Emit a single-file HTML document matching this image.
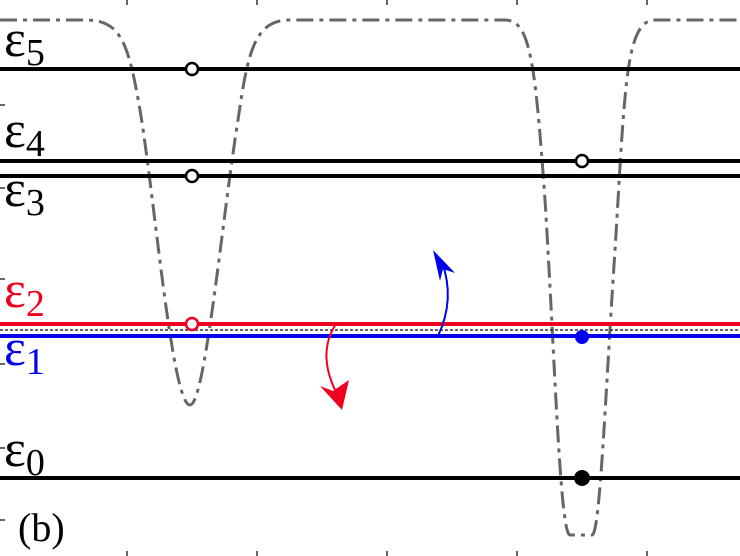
<!DOCTYPE html>
<html><head><style>
html,body{margin:0;padding:0;background:#fff;}
svg{display:block;}
text{font-family:"Liberation Serif",serif;}
</style></head><body>
<svg width="740" height="556" viewBox="0 0 740 556" xmlns="http://www.w3.org/2000/svg">
<g stroke="#000" stroke-width="1.2">
<line x1="127" y1="0" x2="127" y2="5"/><line x1="257" y1="0" x2="257" y2="5"/><line x1="387" y1="0" x2="387" y2="5"/><line x1="517" y1="0" x2="517" y2="5"/><line x1="647" y1="0" x2="647" y2="5"/>
<line x1="127" y1="551" x2="127" y2="556"/><line x1="257" y1="551" x2="257" y2="556"/><line x1="387" y1="551" x2="387" y2="556"/><line x1="517" y1="551" x2="517" y2="556"/><line x1="647" y1="551" x2="647" y2="556"/>
<line x1="0" y1="105" x2="5" y2="105"/><line x1="0" y1="188" x2="5" y2="188"/><line x1="0" y1="279" x2="5" y2="279"/><line x1="0" y1="364" x2="5" y2="364"/><line x1="0" y1="448" x2="5" y2="448"/><line x1="0" y1="520" x2="5" y2="520"/>
</g>
<path d="M0,20 L85,20 C120,20 128,40 140,110 C155,200 172,405 190,405 C205,405 222,220 238,120 C248,50 255,20 290,20 L505,20 C530,20 535,60 545,200 C555,360 560,535 570,535 L592,535 C600,535 605,400 615,250 C625,90 625,20 655,20 L740,20" fill="none" stroke="#666" stroke-width="3" stroke-dasharray="17,6,4,6"/>
<g stroke="#000" stroke-width="4">
<line x1="0" y1="69" x2="740" y2="69"/>
<line x1="0" y1="161" x2="740" y2="161"/>
<line x1="0" y1="176" x2="740" y2="176"/>
<line x1="0" y1="478" x2="740" y2="478"/>
</g>
<line x1="0" y1="324" x2="740" y2="324" stroke="#f0001e" stroke-width="4"/>
<line x1="0" y1="330" x2="740" y2="330" stroke="#333" stroke-width="1.5" stroke-dasharray="3,2"/>
<line x1="0" y1="336" x2="740" y2="336" stroke="#0000ee" stroke-width="4"/>
<g stroke-width="2.5" fill="#fff">
<circle cx="192" cy="69" r="6" stroke="#000"/>
<circle cx="192" cy="176" r="6" stroke="#000"/>
<circle cx="582" cy="161" r="6" stroke="#000"/>
<circle cx="192" cy="324" r="6" stroke="#f0001e"/>
</g>
<circle cx="582" cy="337" r="7" fill="#0000ee"/>
<circle cx="582" cy="478" r="8" fill="#000"/>
<path d="M438,336 C448,315 452,290 442,262" fill="none" stroke="#0000ee" stroke-width="2"/>
<path d="M433,250 L455,273 L443,269 L440,281 Z" fill="#0000ee"/>
<path d="M336,324 C322,345 324,370 338,396" fill="none" stroke="#f0001e" stroke-width="2"/>
<path d="M342,410 L320,386 L333,391 L349,380 Z" fill="#f0001e"/>
<g font-size="52">
<text x="4" y="56">ε<tspan font-size="38" dy="9">5</tspan></text>
<text x="4" y="147">ε<tspan font-size="38" dy="9">4</tspan></text>
<text x="4" y="206">ε<tspan font-size="38" dy="9">3</tspan></text>
<text x="4" y="307" fill="#f0001e">ε<tspan font-size="38" dy="9">2</tspan></text>
<text x="4" y="365" fill="#0000ee">ε<tspan font-size="38" dy="9">1</tspan></text>
<text x="4" y="466">ε<tspan font-size="38" dy="9">0</tspan></text>
<text x="18" y="541" font-size="40">(b)</text>
</g>
</svg>
</body></html>
